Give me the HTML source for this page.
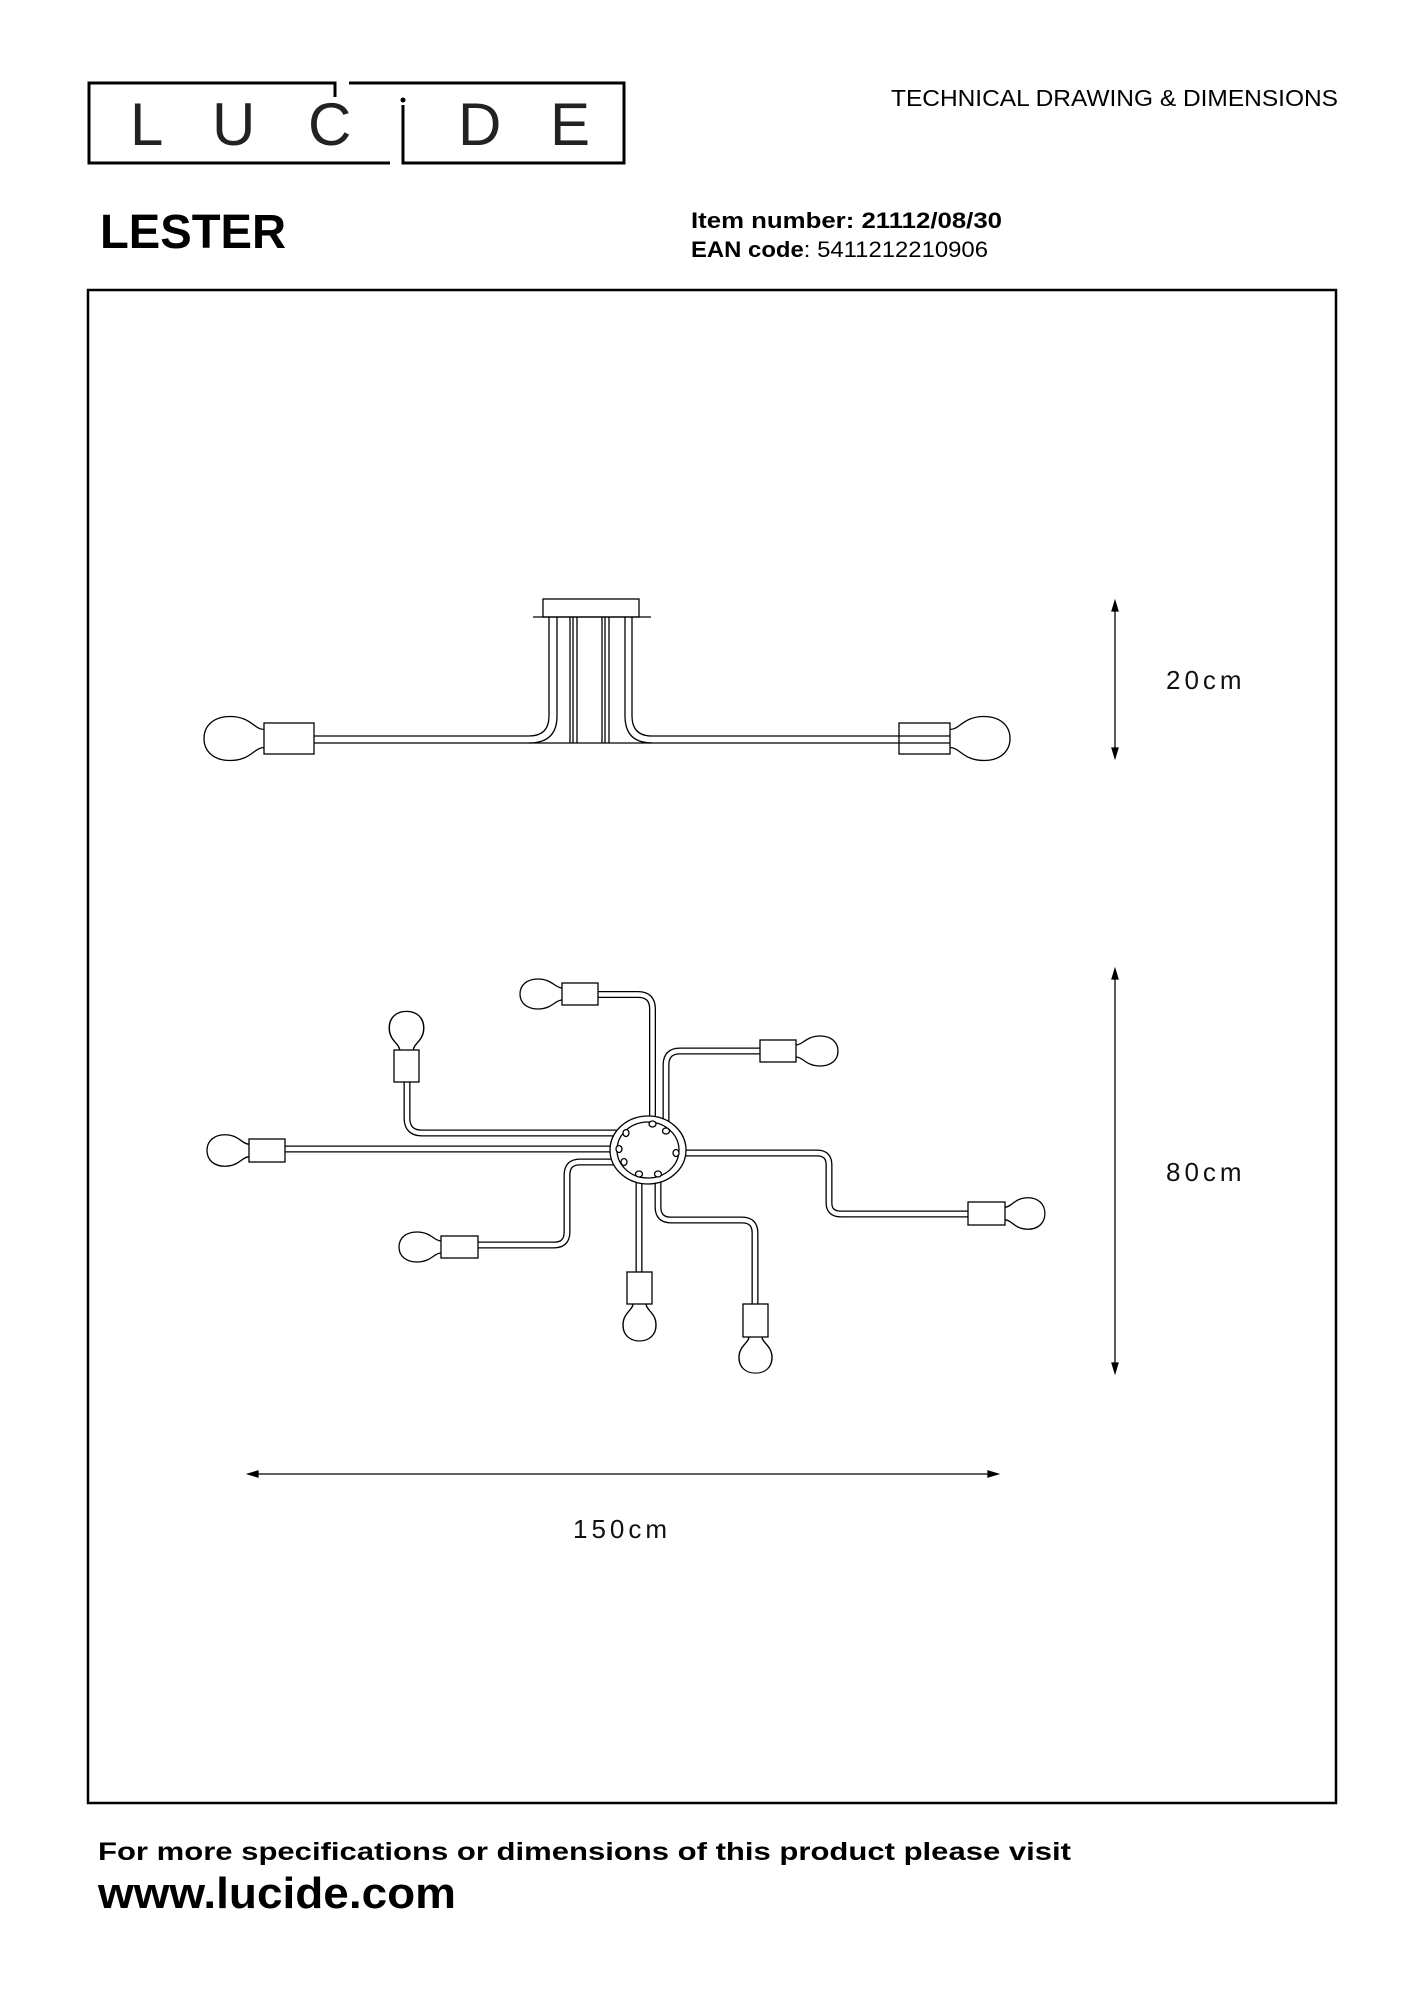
<!DOCTYPE html>
<html><head><meta charset="utf-8"><style>
html,body{margin:0;padding:0;background:#fff}
svg{display:block}
</style></head><body>
<svg width="1414" height="2000" viewBox="0 0 1414 2000" xmlns="http://www.w3.org/2000/svg" font-family="Liberation Sans, sans-serif">
<defs>
  <path id="bs" d="M0,-9 C10,-9 13,-22 34,-22 C50,-22 60,-13 60,0 C60,13 50,22 34,22 C13,22 10,9 0,9" fill="none" stroke="#000" stroke-width="1.3"/>
  <path id="bp" d="M0,-6 C7,-6 10,-15 24,-15 C35,-15 42,-9 42,0 C42,9 35,15 24,15 C10,15 7,6 0,6" fill="none" stroke="#000" stroke-width="1.3"/>
</defs>

<!-- Logo -->
<g fill="none" stroke="#000" stroke-width="3">
  <polyline points="335,97 335,83 89,83 89,163 390,163"/>
  <polyline points="349,83 624,83 624,163 403,163 403,105"/>
</g>
<circle cx="403" cy="100" r="2.5" fill="#000"/>
<g font-size="60" font-family="Liberation Sans, sans-serif" fill="#222">
  <text x="130" y="145">L</text>
  <text x="212" y="145">U</text>
  <text x="308" y="145">C</text>
  <text x="458" y="145">D</text>
  <text x="550" y="145">E</text>
</g>

<text x="891" y="106" font-size="23" textLength="447" lengthAdjust="spacingAndGlyphs">TECHNICAL DRAWING &amp; DIMENSIONS</text>
<text x="100" y="248" font-size="48" font-weight="bold" textLength="186" lengthAdjust="spacingAndGlyphs">LESTER</text>
<text x="691" y="228" font-size="22" font-weight="bold" textLength="311" lengthAdjust="spacingAndGlyphs">Item number: 21112/08/30</text>
<text x="691" y="257" font-size="22" textLength="297" lengthAdjust="spacingAndGlyphs"><tspan font-weight="bold">EAN code</tspan>: 5411212210906</text>

<!-- Frame -->
<rect x="88" y="290" width="1248" height="1513" fill="none" stroke="#000" stroke-width="2.5"/>

<!-- Side view -->
<g fill="none" stroke="#000" stroke-width="1.3">
  <rect x="543" y="599" width="96" height="18"/>
  <line x1="533" y1="617" x2="651" y2="617"/>
  <path d="M314,736 L529,736 Q549,736 549,716 L549,617"/>
  <path d="M314,743 L529,743 Q557,743 557,716 L557,617"/>
  <path d="M950,736 L652,736 Q632,736 632,716 L632,617"/>
  <path d="M950,743 L652,743 Q625,743 625,716 L625,617"/>
  <line x1="529" y1="743" x2="652" y2="743"/>
  <line x1="570" y1="617" x2="570" y2="743"/>
  <line x1="573" y1="617" x2="573" y2="743"/>
  <line x1="577" y1="617" x2="577" y2="743"/>
  <line x1="602" y1="617" x2="602" y2="743"/>
  <line x1="605" y1="617" x2="605" y2="743"/>
  <line x1="609" y1="617" x2="609" y2="743"/>
  <rect x="264" y="723" width="50" height="31"/>
  <rect x="899" y="723" width="51" height="31"/>
</g>
<use href="#bs" transform="translate(264,738.5) scale(-1,1)"/>
<use href="#bs" transform="translate(950,738.5)"/>

<!-- Dimension arrows -->
<g stroke="#000" stroke-width="1.3" fill="#000">
  <line x1="1115" y1="604" x2="1115" y2="755"/>
  <path d="M1115,601 L1112,611 L1118,611 Z"/>
  <path d="M1115,758 L1112,748 L1118,748 Z"/>
  <line x1="1115" y1="972" x2="1115" y2="1370"/>
  <path d="M1115,969 L1112,979 L1118,979 Z"/>
  <path d="M1115,1373 L1112,1363 L1118,1363 Z"/>
  <line x1="251" y1="1474" x2="995" y2="1474"/>
  <path d="M248,1474 L258,1471 L258,1477 Z"/>
  <path d="M998,1474 L988,1471 L988,1477 Z"/>
</g>
<g font-size="26" fill="#111" letter-spacing="4">
  <text x="1166" y="689">20cm</text>
  <text x="1166" y="1181">80cm</text>
  <text x="573" y="1538">150cm</text>
</g>

<!-- Plan view tubes -->
<g fill="none" stroke-linejoin="round">
  <g stroke="#000" stroke-width="7">
    <path d="M598,994.5 L638,994.5 Q652.5,994.5 652.5,1009 L652.5,1125"/>
    <path d="M407,1082 L407,1118 Q407,1133 422,1133 L628,1133"/>
    <path d="M760,1051 L680,1051 Q666,1051 666,1065 L666,1128"/>
    <path d="M285,1149 L620,1149"/>
    <path d="M684,1153 L817,1153 Q829,1153 829,1165 L829,1203 Q829,1214 841,1214 L968,1214"/>
    <path d="M624,1162 L580,1162 Q567,1162 567,1175 L567,1232 Q567,1245 554,1245 L478,1245"/>
    <path d="M639,1176 L639,1272"/>
    <path d="M658,1176 L658,1207 Q658,1220 671,1220 L742,1220 Q755,1220 755,1233 L755,1304"/>
  </g>
  <g stroke="#fff" stroke-width="4.4">
    <path d="M598,994.5 L638,994.5 Q652.5,994.5 652.5,1009 L652.5,1125"/>
    <path d="M407,1082 L407,1118 Q407,1133 422,1133 L628,1133"/>
    <path d="M760,1051 L680,1051 Q666,1051 666,1065 L666,1128"/>
    <path d="M285,1149 L620,1149"/>
    <path d="M684,1153 L817,1153 Q829,1153 829,1165 L829,1203 Q829,1214 841,1214 L968,1214"/>
    <path d="M624,1162 L580,1162 Q567,1162 567,1175 L567,1232 Q567,1245 554,1245 L478,1245"/>
    <path d="M639,1176 L639,1272"/>
    <path d="M658,1176 L658,1207 Q658,1220 671,1220 L742,1220 Q755,1220 755,1233 L755,1304"/>
  </g>
</g>

<!-- Hub -->
<g fill="#fff" stroke="#000" stroke-width="1.3">
  <ellipse cx="648" cy="1150" rx="38" ry="34"/>
  <ellipse cx="648" cy="1150" rx="31" ry="28"/>
  <ellipse cx="652.5" cy="1124" rx="3.5" ry="3"/>
  <ellipse cx="666" cy="1131" rx="3.5" ry="3"/>
  <ellipse cx="626" cy="1133" rx="3" ry="3.5"/>
  <ellipse cx="619" cy="1149" rx="3" ry="3.5"/>
  <ellipse cx="624" cy="1162" rx="3" ry="3.5"/>
  <ellipse cx="676" cy="1153" rx="3" ry="3.5"/>
  <ellipse cx="639" cy="1174" rx="3.5" ry="3"/>
  <ellipse cx="658" cy="1174" rx="3.5" ry="3"/>
</g>

<!-- Sockets -->
<g fill="#fff" stroke="#000" stroke-width="1.3">
  <rect x="562" y="983" width="36" height="22"/>
  <rect x="394" y="1050" width="25" height="32"/>
  <rect x="760" y="1040" width="36" height="22"/>
  <rect x="249" y="1139" width="36" height="23"/>
  <rect x="968" y="1202" width="37" height="23"/>
  <rect x="441" y="1236" width="37" height="22"/>
  <rect x="627" y="1272" width="25" height="32"/>
  <rect x="743" y="1304" width="25" height="33"/>
</g>

<!-- Bulbs -->
<use href="#bp" transform="translate(562,994)scale(-1,1)"/>
<use href="#bp" transform="translate(406.5,1050)rotate(-90)scale(0.92,1.15)"/>
<use href="#bp" transform="translate(796,1051)"/>
<use href="#bp" transform="translate(249,1150.5)scale(-1,1.05)"/>
<use href="#bp" transform="translate(1005,1213.5)scale(0.95,1.05)"/>
<use href="#bp" transform="translate(441,1247)scale(-1.0,1)"/>
<use href="#bp" transform="translate(639.5,1304)rotate(90)scale(0.88,1.1)"/>
<use href="#bp" transform="translate(755.5,1337)rotate(90)scale(0.86,1.1)"/>

<!-- Footer -->
<text x="98" y="1860" font-size="25" font-weight="bold" textLength="973" lengthAdjust="spacingAndGlyphs">For more specifications or dimensions of this product please visit</text>
<text x="98" y="1908" font-size="44" font-weight="bold" textLength="358" lengthAdjust="spacingAndGlyphs">www.lucide.com</text>
</svg>
</body></html>
